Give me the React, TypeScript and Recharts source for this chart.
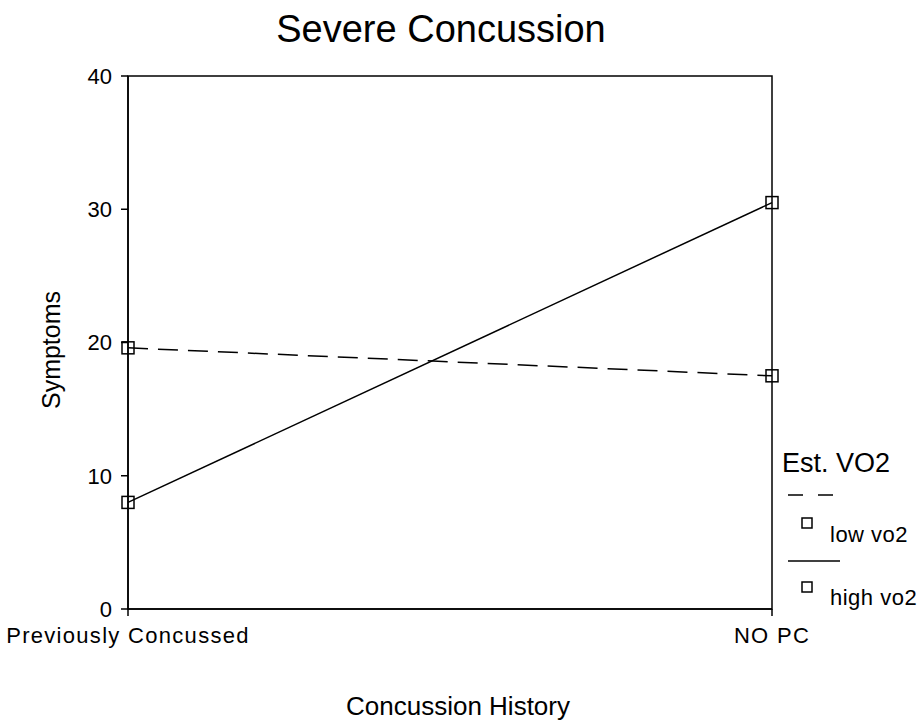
import { Line, LineChart, ReferenceArea, XAxis, YAxis } from "recharts";

const categories = ["Previously Concussed", "NO PC"];
const lowVo2 = [19.6, 17.5];
const highVo2 = [8.0, 30.5];
const yTicks = [0, 10, 20, 30, 40];
const seriesNames = ["low vo2", "high vo2"];

const data = categories.map((history, i) => ({
  history,
  low: lowVo2[i],
  high: highVo2[i],
}));

const FONT = '"Liberation Sans", Arial, sans-serif';

function SquareDot(props: any) {
  const { cx, cy } = props;
  if (cx == null || cy == null) return null;
  return (
    <rect x={cx - 6} y={cy - 6} width={12} height={12} fill="none" stroke="#000" strokeWidth={1.5} />
  );
}

// title and the SPSS-style legend sit on top of the chart
function Overlay() {
  return (
    <svg
      width={924}
      height={724}
      style={{ position: "absolute", left: 0, top: 0, pointerEvents: "none", fontFamily: FONT }}
    >
      <text x={441} y={42} textAnchor="middle" fontSize={38} fill="#000">Severe Concussion</text>
      <text x={782} y={472} fontSize={27} fill="#000">Est. VO2</text>
      <line x1={788} x2={838} y1={495} y2={495} stroke="#000" strokeWidth={1.5} strokeDasharray="15 15" />
      <rect x={802} y={518} width={10} height={10} fill="none" stroke="#000" strokeWidth={1.5} />
      <text x={830} y={542} fontSize={22} letterSpacing={0.5} fill="#000">{seriesNames[0]}</text>
      <line x1={788} x2={840} y1={561} y2={561} stroke="#000" strokeWidth={1.5} />
      <rect x={802} y={582} width={10} height={10} fill="none" stroke="#000" strokeWidth={1.5} />
      <text x={830} y={605} fontSize={22} letterSpacing={0.5} fill="#000">{seriesNames[1]}</text>
    </svg>
  );
}

export default function App() {
  return (
    <div style={{ position: "absolute", left: 0, top: 0, width: 924, height: 724, background: "#fff" }}>
      <LineChart
        width={924}
        height={724}
        data={data}
        margin={{ top: 76, right: 152, bottom: 75, left: 0 }}
      >
        <ReferenceArea
          x1={categories[0]}
          x2={categories[1]}
          y1={0}
          y2={40}
          fill="none"
          stroke="#000"
          strokeWidth={1.5}
          ifOverflow="visible"
        />
        <XAxis
          dataKey="history"
          height={40}
          tickSize={7}
          tickMargin={11}
          stroke="#000"
          strokeWidth={1.5}
          tick={{ fill: "#000", fontSize: 22, fontFamily: FONT, letterSpacing: 1.3 }}
          interval={0}
          label={{
            content: () => (
              <text x={458} y={715} textAnchor="middle" fontSize={26} fontFamily={FONT} fill="#000">
                Concussion History
              </text>
            ),
          }}
        />
        <YAxis
          type="number"
          domain={[0, 40]}
          ticks={yTicks}
          width={128}
          tickSize={7}
          tickMargin={9}
          stroke="#000"
          strokeWidth={1.5}
          tick={{ fill: "#000", fontSize: 22, fontFamily: FONT }}
          label={{
            content: () => (
              <text
                x={60}
                y={350}
                transform="rotate(-90 60 350)"
                textAnchor="middle"
                fontSize={25}
                fontFamily={FONT}
                fill="#000"
              >
                Symptoms
              </text>
            ),
          }}
        />
        <Line
          dataKey="low"
          name={seriesNames[0]}
          stroke="#000"
          strokeWidth={1.5}
          strokeDasharray="20 10"
          dot={<SquareDot />}
          activeDot={false}
          isAnimationActive={false}
        />
        <Line
          dataKey="high"
          name={seriesNames[1]}
          stroke="#000"
          strokeWidth={1.5}
          dot={<SquareDot />}
          activeDot={false}
          isAnimationActive={false}
        />
      </LineChart>
      <Overlay />
    </div>
  );
}
